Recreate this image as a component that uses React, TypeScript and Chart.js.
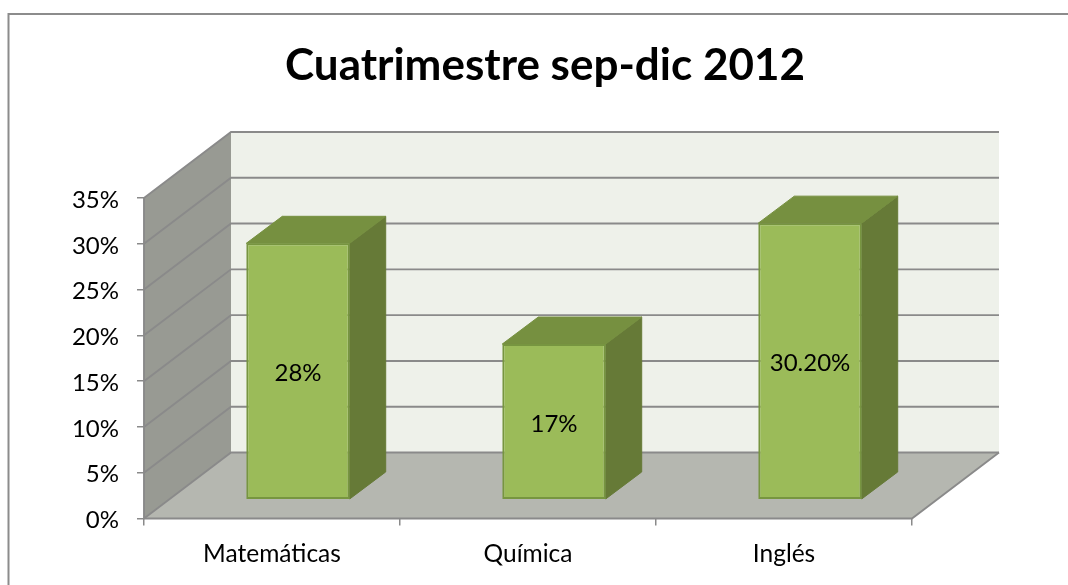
import React, { useEffect, useRef } from "react";
import { Chart, registerables } from "chart.js";

Chart.register(...registerables);

const categories = ["Matemáticas", "Química", "Inglés"];
const seriesValues = [28, 17, 30.2];
const valueLabels = ["28%", "17%", "30.20%"];
const gridValues = [0, 5, 10, 15, 20, 25, 30, 35];

const FONT = "Lato, Carlito, Calibri, sans-serif";
const WALL_DX = 87;
const WALL_DY = -66;
const BAR_SHIFT_X = 26;
const BAR_SHIFT_Y = -18.8;
const BAR_DX = 36;
const BAR_DY = -27;
const LINE = "#8a8a8a";
const TITLE_CENTER = 545;

const poly = (ctx: CanvasRenderingContext2D, pts: number[][], fill: string, stroke?: string, lw = 1) => {
  ctx.beginPath();
  pts.forEach((p, i) => (i ? ctx.lineTo(p[0], p[1]) : ctx.moveTo(p[0], p[1])));
  ctx.closePath();
  ctx.fillStyle = fill;
  ctx.fill();
  if (stroke) {
    ctx.strokeStyle = stroke;
    ctx.lineWidth = lw;
    ctx.stroke();
  }
};

const seg = (ctx: CanvasRenderingContext2D, pts: number[][], color = LINE, lw = 1.9) => {
  ctx.beginPath();
  pts.forEach((p, i) => (i ? ctx.lineTo(p[0], p[1]) : ctx.moveTo(p[0], p[1])));
  ctx.strokeStyle = color;
  ctx.lineWidth = lw;
  ctx.stroke();
};

const scene3d = {
  id: "scene3d",
  afterLayout(chart: any) {
    if (chart.titleBlock) {
      chart.titleBlock.left = 0;
      chart.titleBlock.right = TITLE_CENTER * 2;
    }
  },
  beforeDraw(chart: any) {
    const { ctx, chartArea: a, scales } = chart;
    const y = scales.y;
    const y0 = y.getPixelForValue(0);
    const yT = y.getPixelForValue(gridValues[gridValues.length - 1]);
    ctx.save();
    // outer frame, open to the right and bottom of the page
    seg(ctx, [[8.5, 585], [8.5, 14], [1068, 14]], "#8c8c8c", 2);
    // back wall
    poly(ctx, [[a.left + WALL_DX, yT + WALL_DY], [a.right + WALL_DX, yT + WALL_DY], [a.right + WALL_DX, y0 + WALL_DY], [a.left + WALL_DX, y0 + WALL_DY]], "#eef1ea");
    // side wall
    poly(ctx, [[a.left, yT], [a.left + WALL_DX, yT + WALL_DY], [a.left + WALL_DX, y0 + WALL_DY], [a.left, y0]], "#989a93");
    // floor
    poly(ctx, [[a.left, y0], [a.left + WALL_DX, y0 + WALL_DY], [a.right + WALL_DX, y0 + WALL_DY], [a.right, y0]], "#b5b7b0");
    // grid
    gridValues.forEach((v) => {
      const py = y.getPixelForValue(v);
      seg(ctx, [[a.left, py], [a.left + WALL_DX, py + WALL_DY], [a.right + WALL_DX, py + WALL_DY]]);
    });
    seg(ctx, [[a.left, yT], [a.left, y0], [a.right, y0], [a.right + WALL_DX, y0 + WALL_DY]]);
    ctx.restore();
  },
  beforeDatasetsDraw(chart: any) {
    const { ctx } = chart;
    ctx.save();
    ctx.translate(BAR_SHIFT_X, BAR_SHIFT_Y);
    chart.getDatasetMeta(0).data.forEach((bar: any) => {
      const l = bar.x - bar.width / 2;
      const r = bar.x + bar.width / 2;
      const t = bar.y;
      const b = bar.base;
      poly(ctx, [[r, t], [r + BAR_DX, t + BAR_DY], [r + BAR_DX, b + BAR_DY], [r, b]], "#667a37", "#667a37", 1);
      poly(ctx, [[l, t], [l + BAR_DX, t + BAR_DY], [r + BAR_DX, t + BAR_DY], [r, t]], "#769040", "#769040", 1);
    });
  },
  afterDatasetsDraw(chart: any) {
    const { ctx } = chart;
    ctx.fillStyle = "#000";
    ctx.font = `24px ${FONT}`;
    ctx.textAlign = "center";
    ctx.textBaseline = "middle";
    chart.getDatasetMeta(0).data.forEach((bar: any, i: number) => {
      ctx.fillText(valueLabels[i], bar.x, (bar.y + bar.base) / 2 + 2.5);
    });
    ctx.restore();
  },
};

export default function App() {
  const ref = useRef<HTMLCanvasElement | null>(null);
  useEffect(() => {
    if (!ref.current) return;
    const chart = new Chart(ref.current, {
      type: "bar",
      data: {
        labels: categories,
        datasets: [
          {
            data: seriesValues,
            backgroundColor: "#9bbb59",
            borderColor: "#779540",
            borderWidth: 2,
            borderSkipped: false,
            barPercentage: 0.404,
            categoryPercentage: 1,
          },
        ],
      },
      plugins: [scene3d],
      options: {
        animation: false,
        responsive: false,
        layout: { padding: { left: 0, right: 156, top: 0, bottom: 0 } },
        plugins: {
          legend: { display: false },
          tooltip: { enabled: false },
          title: {
            display: true,
            text: "Cuatrimestre sep-dic 2012",
            color: "#000",
            font: { family: FONT, size: 44, weight: "bold", lineHeight: 1.2 },
            padding: { top: 39.6, bottom: 105.6 },
          },
        },
        scales: {
          x: {
            afterFit: (s: any) => {
              s.height = 66.5;
            },
            grid: { drawOnChartArea: false, color: LINE, tickLength: 7, lineWidth: 1.5 },
            border: { display: false },
            ticks: { color: "#000", font: { family: FONT, size: 24.5 }, padding: 14, maxRotation: 0 },
          },
          y: {
            min: 0,
            max: 35,
            afterFit: (s: any) => {
              s.width = 144;
            },
            grid: { drawOnChartArea: false, color: LINE, tickLength: 7, lineWidth: 1.5 },
            border: { display: false },
            ticks: {
              stepSize: 5,
              color: "#000",
              font: { family: FONT, size: 24 },
              padding: 18,
              labelOffset: 2,
              callback: (v: any) => `${v}%`,
            },
          },
        },
      },
    });
    return () => chart.destroy();
  }, []);
  return (
    <div style={{ position: "absolute", left: 0, top: 0, width: 1068, height: 585, background: "#fff" }}>
      <canvas ref={ref} width={1068} height={585} style={{ display: "block" }} />
    </div>
  );
}
